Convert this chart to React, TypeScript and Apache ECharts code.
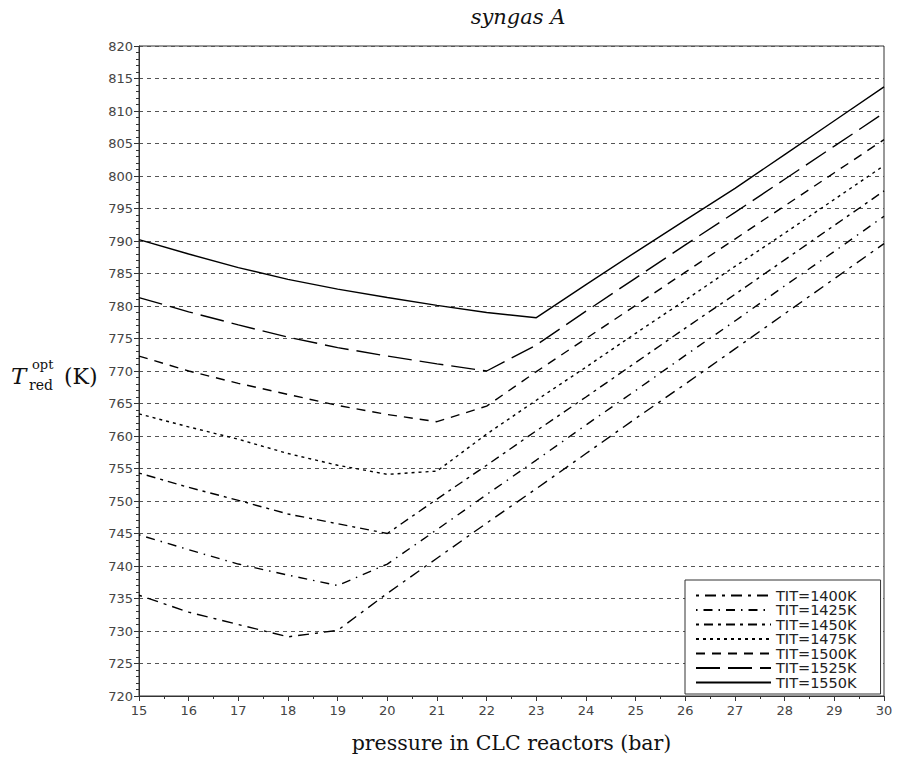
import React, { useEffect, useRef } from "react";
import * as echarts from "echarts";

const pressures = [15, 16, 17, 18, 19, 20, 21, 22, 23, 24, 25, 26, 27, 28, 29, 30];
const seriesNames = ["TIT=1400K", "TIT=1425K", "TIT=1450K", "TIT=1475K", "TIT=1500K", "TIT=1525K", "TIT=1550K"];
const t1400 = [735.5, 732.9, 731.0, 729.1, 730.1, 735.8, 741.2, 746.6, 751.9, 757.3, 762.7, 768.0, 773.4, 778.8, 784.2, 789.6];
const t1425 = [744.8, 742.5, 740.3, 738.6, 737.0, 740.3, 745.6, 751.0, 756.3, 761.7, 767.0, 772.4, 777.7, 783.1, 788.4, 793.8];
const t1450 = [754.3, 752.1, 750.1, 748.0, 746.5, 745.0, 750.3, 755.5, 760.8, 766.0, 771.3, 776.6, 781.8, 787.1, 792.4, 797.7];
const t1475 = [763.4, 761.4, 759.5, 757.3, 755.5, 754.1, 754.6, 760.3, 765.5, 770.6, 775.8, 780.9, 786.1, 791.2, 796.4, 801.6];
const t1500 = [772.3, 770.0, 768.1, 766.4, 764.7, 763.3, 762.2, 764.6, 769.9, 775.0, 780.1, 785.2, 790.3, 795.4, 800.5, 805.6];
const t1525 = [781.3, 779.1, 777.1, 775.2, 773.6, 772.3, 771.1, 770.0, 774.0, 779.2, 784.3, 789.4, 794.4, 799.5, 804.6, 809.7];
const t1550 = [790.2, 788.0, 785.9, 784.1, 782.6, 781.3, 780.1, 779.0, 778.2, 783.3, 788.3, 793.2, 798.1, 803.3, 808.5, 813.7];
const yTicks = { min: 720, max: 820, interval: 5 };
const xTicks = { min: 15, max: 30, interval: 1 };

const allSeries = [t1400, t1425, t1450, t1475, t1500, t1525, t1550];
const dashes: (number[] | "solid")[] = [
  [3, 6, 11, 6],
  [1.5, 6, 9, 6],
  [3, 5, 9, 5],
  [3, 4],
  [9, 7],
  [24, 8],
  "solid",
];

export default function App() {
  const ref = useRef<HTMLDivElement>(null);
  useEffect(() => {
    if (!ref.current) return;
    const chart = echarts.init(ref.current, undefined, { renderer: "svg" });
    const serif = "'DejaVu Serif', serif";
    chart.setOption({
      animation: false,
      backgroundColor: "#ffffff",
      title: {
        text: "syngas A",
        left: 513,
        textAlign: "center",
        top: 1,
        textStyle: { fontFamily: serif, fontStyle: "italic", fontWeight: "normal", fontSize: 21, color: "#111" },
      },
      grid: { left: 139, right: 13, top: 46, bottom: 57, show: true, borderColor: "#333", borderWidth: 1, backgroundColor: "transparent" },
      xAxis: {
        type: "value",
        min: xTicks.min,
        max: xTicks.max,
        interval: xTicks.interval,
        name: "pressure in CLC reactors (bar)",
        nameLocation: "middle",
        nameGap: 36,
        nameTextStyle: { fontFamily: serif, fontSize: 20.5, color: "#111" },
        axisLine: { lineStyle: { color: "#333", width: 1 } },
        axisTick: { show: true, inside: false, length: 5, lineStyle: { color: "#333" } },
        minorTick: { show: true, splitNumber: 2, length: 3, lineStyle: { color: "#333" } },
        splitLine: { show: false },
        axisLabel: { margin: 8, fontFamily: "'DejaVu Sans', sans-serif", fontSize: 13, color: "#444" },
      },
      yAxis: {
        type: "value",
        min: yTicks.min,
        max: yTicks.max,
        interval: yTicks.interval,
        axisLine: { show: true, lineStyle: { color: "#333", width: 1 } },
        axisTick: { show: true, inside: false, length: 5, lineStyle: { color: "#333" } },
        minorTick: { show: true, splitNumber: 5, length: 3, lineStyle: { color: "#333" } },
        splitLine: { show: true, lineStyle: { color: "#555", width: 1, type: [4, 4] } },
        axisLabel: { margin: 6, fontFamily: "'DejaVu Sans', sans-serif", fontSize: 13, color: "#444" },
      },
      legend: {
        orient: "vertical",
        left: 685,
        top: 580,
        padding: [8, 24, 4, 10],
        itemWidth: 75,
        itemHeight: 10,
        itemGap: -0.5,
        backgroundColor: "#ffffff",
        borderColor: "#333",
        borderWidth: 1,
        borderRadius: 0,
        itemStyle: { opacity: 0 },
        data: seriesNames,
        textStyle: { fontFamily: "'DejaVu Sans', sans-serif", fontSize: 14.5, color: "#222" },
      },
      graphic: [
        { type: "text", left: 11, top: 364, style: { text: "T", font: "italic 23px 'DejaVu Serif'", fill: "#111" } },
        { type: "text", left: 32, top: 358, style: { text: "opt", font: "13px 'DejaVu Serif'", fill: "#111" } },
        { type: "text", left: 29, top: 378, style: { text: "red", font: "14px 'DejaVu Serif'", fill: "#111" } },
        { type: "text", left: 64, top: 365, style: { text: "(K)", font: "22px 'DejaVu Serif'", fill: "#111" } },
      ],
      series: allSeries.map((vals, i) => ({
        name: seriesNames[i],
        type: "line",
        data: pressures.map((p, j) => [p, vals[j]]),
        symbol: "none",
        lineStyle: { color: "#000", width: 1.4, type: dashes[i] },
        itemStyle: { color: "#000" },
        z: 3,
      })),
    });
    return () => chart.dispose();
  }, []);
  return <div ref={ref} style={{ width: 897, height: 758, position: "absolute", left: 0, top: 0 }} />;
}
